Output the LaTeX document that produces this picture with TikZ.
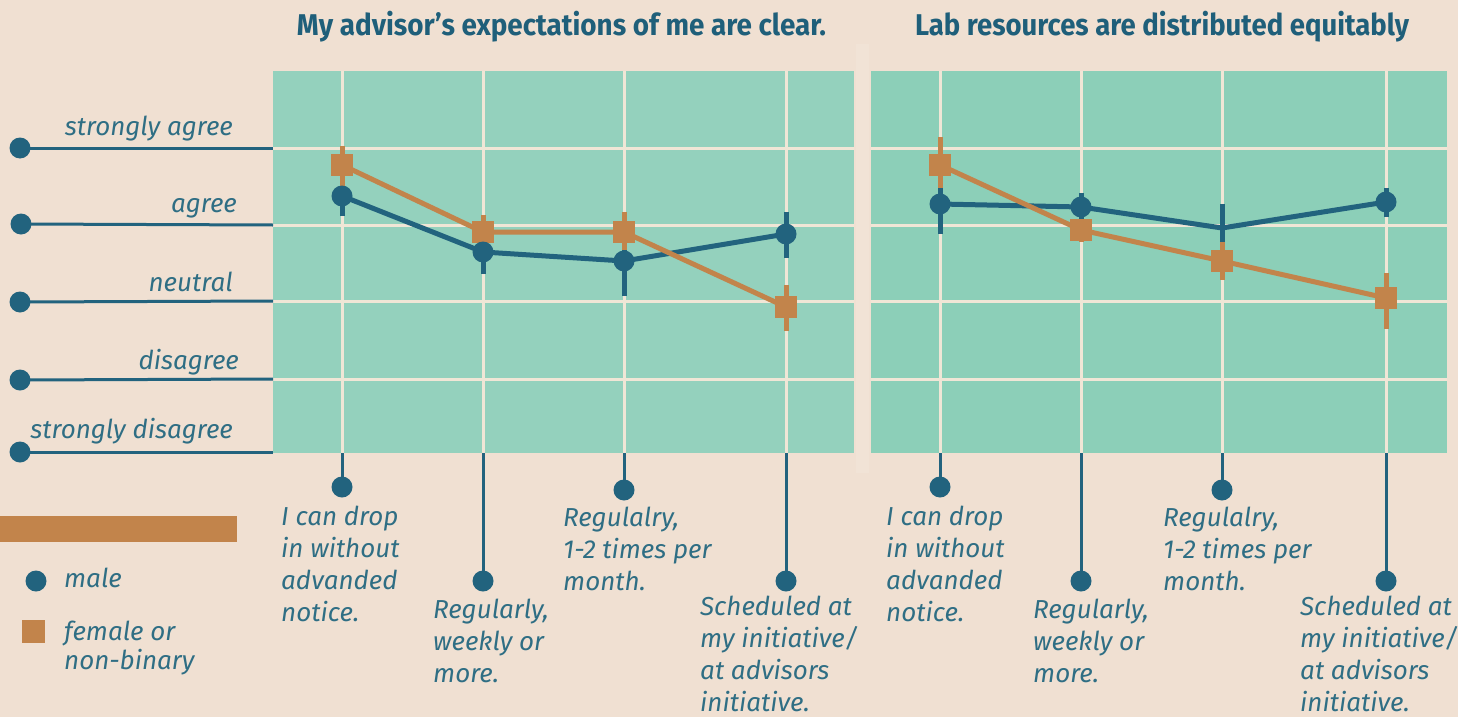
\documentclass[tikz,border=0pt]{standalone}
\usepackage{fontspec}
\usepackage{graphicx}
\newfontfamily\basefont{Fira Sans}
\newcommand\labfont{\basefont\itshape}
\newcommand\ttlfont{\basefont\bfseries}
\definecolor{bgc}{HTML}{F0E0D2}
\definecolor{stripc}{HTML}{F1E3D6}
\definecolor{lpan}{HTML}{94D1BD}
\definecolor{rpan}{HTML}{8CCFB8}
\definecolor{gridc}{HTML}{F0E6D6}
\definecolor{dblue}{HTML}{22637E}
\definecolor{orng}{HTML}{C2844B}
\definecolor{labc}{HTML}{2F6E84}
\definecolor{ttlc}{HTML}{1F5F7A}
\tikzset{
  mdot/.style={circle, fill=dblue, inner sep=0pt, minimum size=21pt},
  fsq/.style={rectangle, fill=orng, inner sep=0pt, minimum size=22pt},
  adot/.style={circle, fill=dblue, inner sep=0pt, minimum size=21pt},
  ebm/.style={draw=dblue, line width=5pt},
  ebf/.style={draw=orng, line width=5pt},
  mline/.style={draw=dblue, line width=5pt, line join=round},
  fline/.style={draw=orng, line width=5pt, line join=round},
  gridl/.style={draw=gridc, line width=3pt},
  axline/.style={draw=dblue, line width=3pt},
  lab/.style={font=\labfont\fontsize{26}{32}\selectfont, text=labc, inner sep=0pt, align=left},
  ttl/.style={text=ttlc, inner sep=0pt},
}
\begin{document}
\begin{tikzpicture}[x=1pt,y=-1pt]
\useasboundingbox (0,0) rectangle (1458,717);
\fill[bgc] (0,0) rectangle (1458,717);
\fill[stripc] (856,44) rectangle (869,473);

% titles
\node[ttl, anchor=base] (t1) at (561.5,36) {\resizebox{529pt}{\height}{\ttlfont\fontsize{30}{36}\selectfont My advisor’s expectations of me are clear.}};
\node[ttl, anchor=base] (t2) at (1162,35) {\resizebox{494pt}{\height}{\ttlfont\fontsize{30}{36}\selectfont Lab resources are distributed equitably}};

% panels
\fill[lpan] (273,71) rectangle (854,453);
\fill[rpan] (871,71) rectangle (1447,453);
\foreach \y in {148,225,301,379}{
  \draw[gridl] (273,\y) -- (854,\y);
  \draw[gridl] (871,\y) -- (1447,\y);
}
\foreach \x in {342,483,624,786,940,1081,1222,1386}{
  \draw[gridl] (\x,71) -- (\x,453);
}

% y axis
\node[adot] (a1) at (20,148) {};
\node[adot] (a2) at (21,224) {};
\node[adot] (a3) at (20,302) {};
\node[adot] (a4) at (20,380) {};
\node[adot] (a5) at (20,452) {};
\coordinate (e1) at (273,148);
\coordinate (e2) at (273,225);
\coordinate (e3) at (273,301);
\coordinate (e4) at (273,379);
\coordinate (e5) at (273,452);
\foreach \i in {1,...,5}{ \draw[axline] (a\i.center) -- (e\i); }
\node[lab, anchor=base east] (y1) at (233,135) {strongly agree};
\node[lab, anchor=base east] (y2) at (237,212) {agree};
\node[lab, anchor=base east] (y3) at (233,291) {neutral};
\node[lab, anchor=base east] (y4) at (239,369) {disagree};
\node[lab, anchor=base east] (y5) at (233,438) {strongly disagree};

% x axis stems
\node[adot] (b1) at (342,487) {};
\node[adot] (b2) at (483,581) {};
\node[adot] (b3) at (624,490) {};
\node[adot] (b4) at (786,581) {};
\node[adot] (b5) at (940,487) {};
\node[adot] (b6) at (1081,581) {};
\node[adot] (b7) at (1222,490) {};
\node[adot] (b8) at (1386,581) {};
\coordinate (p1) at (342,453);
\coordinate (p2) at (483,453);
\coordinate (p3) at (624,453);
\coordinate (p4) at (786,453);
\coordinate (p5) at (940,453);
\coordinate (p6) at (1081,453);
\coordinate (p7) at (1222,453);
\coordinate (p8) at (1386,453);
\foreach \i in {1,...,8}{ \draw[axline] (p\i) -- (b\i.center); }

% category labels (anchor = baseline of last line)
\node[lab, anchor=base west] (c1) at (281,621) {I can drop\\in without\\advanded\\notice.};
\node[lab, anchor=base west] (c2) at (433,682) {Regularly,\\weekly or\\more.};
\node[lab, anchor=base west] (c3) at (563,590) {Regulalry,\\1-2 times per\\month.};
\node[lab, anchor=base west] (c4) at (700,711) {Scheduled at\\my initiative/\\at advisors\\initiative.};
\node[lab, anchor=base west] (c5) at (886,621) {I can drop\\in without\\advanded\\notice.};
\node[lab, anchor=base west] (c6) at (1033,682) {Regularly,\\weekly or\\more.};
\node[lab, anchor=base west] (c7) at (1163,590) {Regulalry,\\1-2 times per\\month.};
\node[lab, anchor=base west] (c8) at (1300,711) {Scheduled at\\my initiative/\\at advisors\\initiative.};

% data coordinates
\coordinate (Lm1) at (342,196);
\coordinate (Lm2) at (483,252);
\coordinate (Lm3) at (624,261);
\coordinate (Lm4) at (786,234);
\coordinate (Lf1) at (342,165);
\coordinate (Lf2) at (483,232);
\coordinate (Lf3) at (624,232);
\coordinate (Lf4) at (786,307);
\coordinate (Rm1) at (940,204);
\coordinate (Rm2) at (1081,207);
\coordinate (Rm3) at (1222,228);
\coordinate (Rm4) at (1386,202);
\coordinate (Rf1) at (940,165);
\coordinate (Rf2) at (1081,230);
\coordinate (Rf3) at (1222,261);
\coordinate (Rf4) at (1386,298);

% lines
\draw[mline] (Lm1) -- (Lm2) -- (Lm3) -- (Lm4);
\draw[fline] (Lf1) -- (Lf2) -- (Lf3) -- (Lf4);
\draw[mline] (Rm1) -- (Rm2) -- (Rm3) -- (Rm4);
\draw[fline] (Rf1) -- (Rf2) -- (Rf3) -- (Rf4);

% female error bars
\draw[ebf] (342,146) -- (342,186);
\draw[ebf] (483,215) -- (483,245);
\draw[ebf] (624,212) -- (624,250);
\draw[ebf] (786,285) -- (786,331);
\draw[ebf] (940,137) -- (940,190);
\draw[ebf] (1081,220) -- (1081,242);
\draw[ebf] (1222,242) -- (1222,280);
\draw[ebf] (1386,273) -- (1386,329);
% male error bars
\draw[ebm] (342,190) -- (342,216);
\draw[ebm] (483,245) -- (483,274);
\draw[ebm] (624,250) -- (624,296);
\draw[ebm] (786,212) -- (786,258);
\draw[ebm] (940,188) -- (940,234);
\draw[ebm] (1081,193) -- (1081,220);
\draw[ebm] (1222,204) -- (1222,242);
\draw[ebm] (1386,188) -- (1386,217);

% markers
\foreach \n in {Lf1,Lf2,Lf3,Lf4,Rf1,Rf2,Rf3,Rf4}{ \node[fsq] (s\n) at (\n) {}; }
\foreach \n in {Lm1,Lm2,Lm3,Lm4,Rm1,Rm2,Rm4}{ \node[mdot] (d\n) at (\n) {}; }

% legend
\fill[orng] (0,516) rectangle (237,542);
\node[mdot] (lgm) at (36,581) {};
\node[lab, anchor=base west] (lgmt) at (64,587) {male};
\node[fsq, minimum size=23pt] (lgf) at (33.5,631.5) {};
\node[lab, anchor=base west, font=\labfont\fontsize{26}{29}\selectfont] (lgft) at (64,669) {female or\\non-binary};
\end{tikzpicture}
\end{document}
